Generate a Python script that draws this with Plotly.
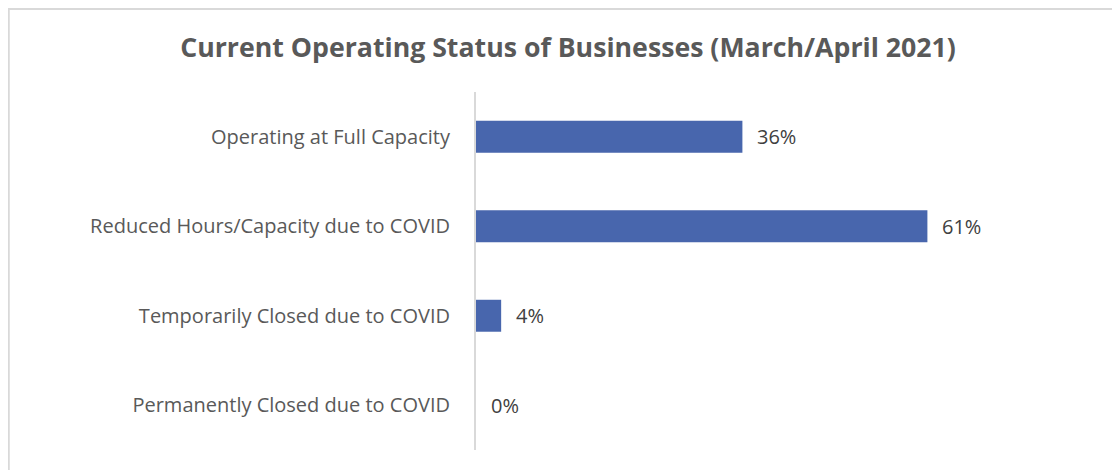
import plotly.graph_objects as go

categories = [
    "Operating at Full Capacity",
    "Reduced Hours/Capacity due to COVID",
    "Temporarily Closed due to COVID",
    "Permanently Closed due to COVID",
]
values = [36, 61, 3.4, 0]
value_labels = ["36%", "61%", "4%", "0%"]
title_text = "Current Operating Status of Businesses (March/April 2021)"

W, H = 1120, 470
# the page adds an 8px body margin, so figure coords = page coords - 8
L, T = 468, 84
pw, ph = 592, 358
R, B = W - L - pw, H - T - ph

def px_x(x):
    return (x - L) / pw

def px_y(y):
    return 1 - (y - T) / ph

FONT = "Open Sans, Lato, sans-serif"

fig = go.Figure()
fig.add_trace(go.Bar(
    x=values, y=categories, orientation="h",
    marker=dict(color="#4866AD", line=dict(width=0)),
    width=0.357, hoverinfo="skip",
))

for v, c, lab in zip(values, categories, value_labels):
    fig.add_annotation(
        x=v, y=c, xref="x", yref="y", text=lab, showarrow=False,
        xanchor="left", yanchor="middle", xshift=13,
        font=dict(family=FONT, size=20, color="#404040"),
    )

fig.add_shape(
    type="rect", xref="paper", yref="paper",
    x0=px_x(0.5), x1=px_x(1140), y0=px_y(490), y1=px_y(0.8),
    line=dict(color="#D9D9D9", width=2.5), fillcolor="rgba(0,0,0,0)", layer="below",
)

fig.update_layout(
    width=W, height=H,
    margin=dict(l=L, r=R, t=T, b=B),
    paper_bgcolor="white", plot_bgcolor="white",
    showlegend=False,
    title=dict(
        text="<b>" + title_text + "</b>",
        x=px_x(560), xanchor="center", xref="paper",
        y=1 - 40 / H, yanchor="middle", yref="container",
        font=dict(family=FONT, size=26.7, color="#595959"),
    ),
    xaxis=dict(range=[0, 80], visible=False, fixedrange=True),
    yaxis=dict(
        categoryorder="array", categoryarray=categories,
        autorange="reversed",
        showline=True, linecolor="#D9D9D9", linewidth=2,
        showgrid=False, zeroline=False, ticks="",
        ticklabelstandoff=20,
        tickfont=dict(family=FONT, size=20, color="#595959"),
        fixedrange=True,
    ),
)

fig.write_html("out.html")
